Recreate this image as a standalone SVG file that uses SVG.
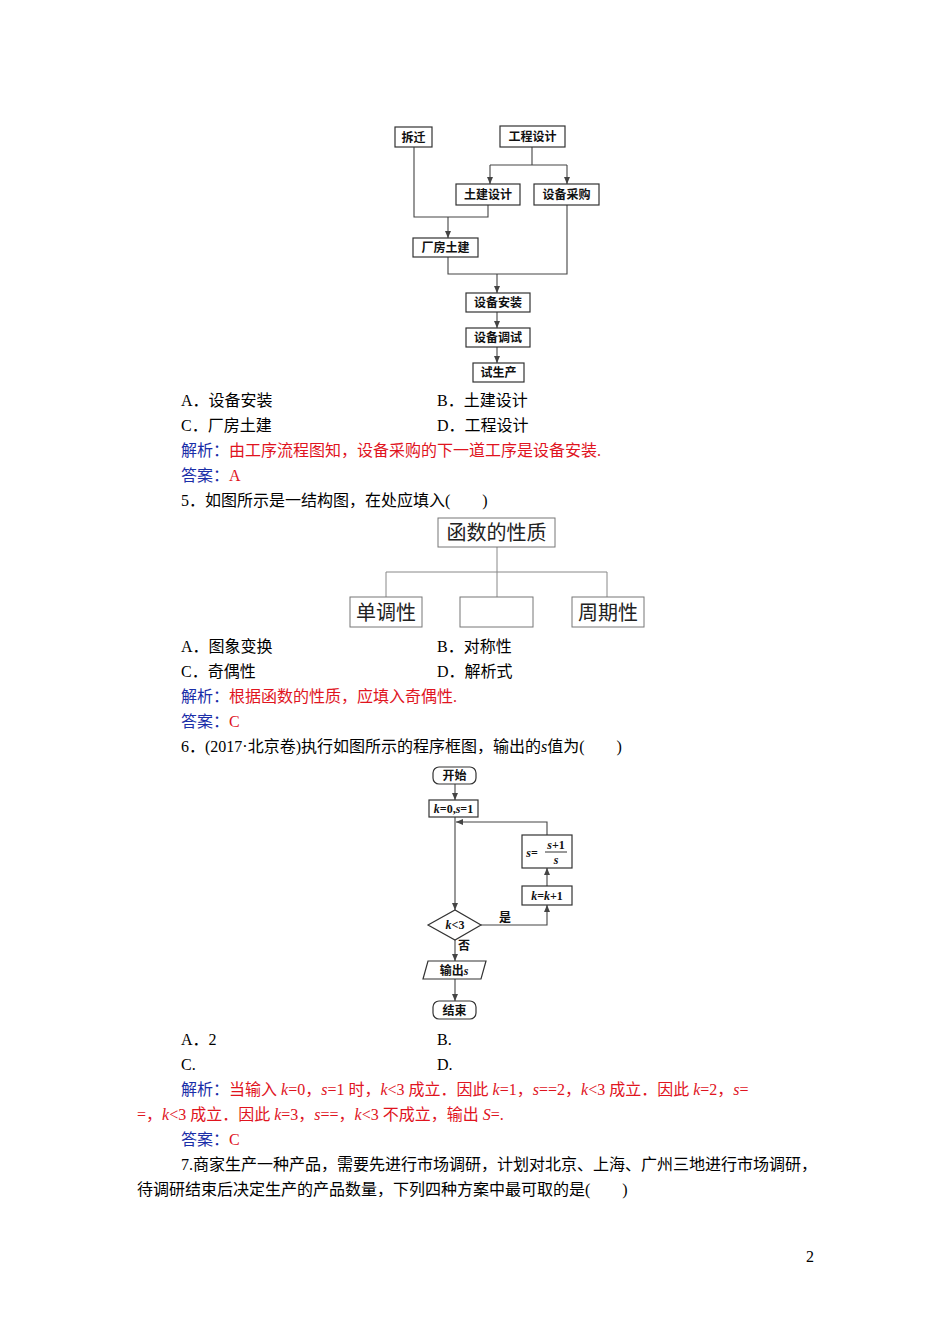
<svg xmlns="http://www.w3.org/2000/svg" width="950" height="1344" viewBox="0 0 950 1344">
<style>
.t{font-family:"Liberation Serif","Noto Sans CJK SC",serif;font-size:16px;fill:#000}
.b{fill:#1a2ea8}.r{fill:#e0141e}
.n{fill:#fff;stroke:#333;stroke-width:1.2}
.nl{font-family:"Liberation Serif","Noto Sans CJK SC",serif;font-size:12px;font-weight:bold;text-anchor:middle;fill:#111}
.big{font-family:"Noto Sans CJK SC",sans-serif;font-size:20px;text-anchor:middle;fill:#222}
.c{fill:none;stroke:#444;stroke-width:1.1}
.c2{fill:none;stroke:#888;stroke-width:1}
</style>
<defs><marker id="a" markerWidth="8" markerHeight="8" refX="7" refY="4" orient="auto" markerUnits="userSpaceOnUse"><path d="M0,1 L7,4 L0,7z" fill="#444"/></marker></defs>
<rect width="950" height="1344" fill="#fff"/>
<g id="connectors">
<path class="c" d="M532,147V165M490,165H567M490,165V184" marker-end="url(#a)"/>
<path class="c" d="M567,165V184" marker-end="url(#a)"/>
<path class="c" d="M414,147V217H488V205M448,217V238" marker-end="url(#a)"/>
<path class="c" d="M448,257V274H567V205M497,274V293" marker-end="url(#a)"/>
<path class="c" d="M497,312V328" marker-end="url(#a)"/>
<path class="c" d="M497,347V363" marker-end="url(#a)"/>
<path class="c2" d="M497,547V572M386,572H607M386,572V597M497,572V597M607,572V597"/>
<path class="c" d="M455,784V800" marker-end="url(#a)"/>
<path class="c" d="M455,817V910" marker-end="url(#a)"/>
<path class="c" d="M481,925H547V905" marker-end="url(#a)"/>
<path class="c" d="M547,886V868" marker-end="url(#a)"/>
<path class="c" d="M547,835V822H456" marker-end="url(#a)"/>
<path class="c" d="M455,940V961" marker-end="url(#a)"/>
<path class="c" d="M455,979V1001" marker-end="url(#a)"/>
</g>
<g id="n1"><rect class="n" x="395" y="127" width="37" height="20"/><text class="nl" x="413.5" y="142">拆迁</text></g>
<g id="n2"><rect class="n" x="500" y="126" width="65" height="21"/><text class="nl" x="532.5" y="141">工程设计</text></g>
<g id="n3"><rect class="n" x="456" y="184" width="64" height="21"/><text class="nl" x="488" y="199">土建设计</text></g>
<g id="n4"><rect class="n" x="534" y="184" width="65" height="21"/><text class="nl" x="566.5" y="199">设备采购</text></g>
<g id="n5"><rect class="n" x="413" y="238" width="65" height="19"/><text class="nl" x="445.5" y="252">厂房土建</text></g>
<g id="n6"><rect class="n" x="466" y="293" width="64" height="19"/><text class="nl" x="498" y="307">设备安装</text></g>
<g id="n7"><rect class="n" x="466" y="328" width="64" height="19"/><text class="nl" x="498" y="342">设备调试</text></g>
<g id="n8"><rect class="n" x="473" y="363" width="51" height="19"/><text class="nl" x="498.5" y="377">试生产</text></g>
<g id="s1"><rect x="438" y="518" width="117" height="29" fill="#fff" stroke="#777"/><text class="big" x="496.5" y="540">函数的性质</text></g>
<g id="s2"><rect x="350" y="597" width="72" height="30" fill="#fff" stroke="#777"/><text class="big" x="386" y="620">单调性</text></g>
<g id="s3"><rect x="460" y="597" width="73" height="30" fill="#fff" stroke="#777"/></g>
<g id="s4"><rect x="572" y="597" width="72" height="30" fill="#fff" stroke="#777"/><text class="big" x="608" y="620">周期性</text></g>
<g id="f1"><rect class="n" x="433" y="767" width="43" height="17" rx="6"/><text class="nl" x="454.5" y="780">开始</text></g>
<g id="f2"><rect class="n" x="429" y="800" width="49" height="17"/><text class="nl" x="453.5" y="813"><tspan font-style="italic">k</tspan>=0,<tspan font-style="italic">s</tspan>=1</text></g>
<g id="f3"><rect class="n" x="522" y="835" width="50" height="33"/><text class="nl" x="532" y="857" font-size="10"><tspan font-style="italic">s</tspan>=</text><text class="nl" x="556" y="849" font-size="10"><tspan font-style="italic">s</tspan>+1</text><path d="M545,852H567" stroke="#333"/><text class="nl" x="556" y="864" font-size="10" font-style="italic">s</text></g>
<g id="f4"><rect class="n" x="522" y="886" width="50" height="19"/><text class="nl" x="547" y="900"><tspan font-style="italic">k</tspan>=<tspan font-style="italic">k</tspan>+1</text></g>
<g id="f5"><path class="n" d="M428,925L455,910L481,925L455,940z"/><text class="nl" x="455" y="929"><tspan font-style="italic">k</tspan>&lt;3</text></g>
<g id="f6"><path class="n" d="M428,961H486L481,979H423z"/><text class="nl" x="454" y="975">输出<tspan font-style="italic">s</tspan></text></g>
<g id="f7"><rect class="n" x="433" y="1001" width="43" height="18" rx="6"/><text class="nl" x="454.5" y="1015">结束</text></g>
<text class="nl" x="505" y="922">是</text>
<text class="nl" x="464" y="950">否</text>
<g id="text">
<text class="t" x="181" y="406">A．设备安装</text><text class="t" x="437" y="406">B．土建设计</text>
<text class="t" x="181" y="431">C．厂房土建</text><text class="t" x="437" y="431">D．工程设计</text>
<text class="t" x="181" y="456"><tspan class="b">解析：</tspan><tspan class="r">由工序流程图知，设备采购的下一道工序是设备安装.</tspan></text>
<text class="t" x="181" y="481"><tspan class="b">答案：</tspan><tspan class="r">A</tspan></text>
<text class="t" x="181" y="506">5．如图所示是一结构图，在处应填入(　　)</text>
<text class="t" x="181" y="652">A．图象变换</text><text class="t" x="437" y="652">B．对称性</text>
<text class="t" x="181" y="677">C．奇偶性</text><text class="t" x="437" y="677">D．解析式</text>
<text class="t" x="181" y="702"><tspan class="b">解析：</tspan><tspan class="r">根据函数的性质，应填入奇偶性.</tspan></text>
<text class="t" x="181" y="727"><tspan class="b">答案：</tspan><tspan class="r">C</tspan></text>
<text class="t" x="181" y="752">6．(2017·北京卷)执行如图所示的程序框图，输出的<tspan font-style="italic">s</tspan>值为(　　)</text>
<text class="t" x="181" y="1045">A．2</text><text class="t" x="437" y="1045">B.</text>
<text class="t" x="181" y="1070">C.</text><text class="t" x="437" y="1070">D.</text>
<text class="t" x="181" y="1095"><tspan class="b">解析：</tspan><tspan class="r">当输入 <tspan font-style="italic">k</tspan>=0，<tspan font-style="italic">s</tspan>=1 时，<tspan font-style="italic">k</tspan>&lt;3 成立．因此 <tspan font-style="italic">k</tspan>=1，<tspan font-style="italic">s</tspan>==2，<tspan font-style="italic">k</tspan>&lt;3 成立．因此 <tspan font-style="italic">k</tspan>=2，<tspan font-style="italic">s</tspan>=</tspan></text>
<text class="t r" x="137" y="1120">=，<tspan font-style="italic">k</tspan>&lt;3 成立．因此 <tspan font-style="italic">k</tspan>=3，<tspan font-style="italic">s</tspan>==，<tspan font-style="italic">k</tspan>&lt;3 不成立，输出 <tspan font-style="italic">S</tspan>=.</text>
<text class="t" x="181" y="1145"><tspan class="b">答案：</tspan><tspan class="r">C</tspan></text>
<text class="t" x="181" y="1170">7.商家生产一种产品，需要先进行市场调研，计划对北京、上海、广州三地进行市场调研，</text>
<text class="t" x="137" y="1195">待调研结束后决定生产的产品数量，下列四种方案中最可取的是(　　)</text>
<text class="t" x="806" y="1262" font-size="12">2</text>
</g>
</svg>
